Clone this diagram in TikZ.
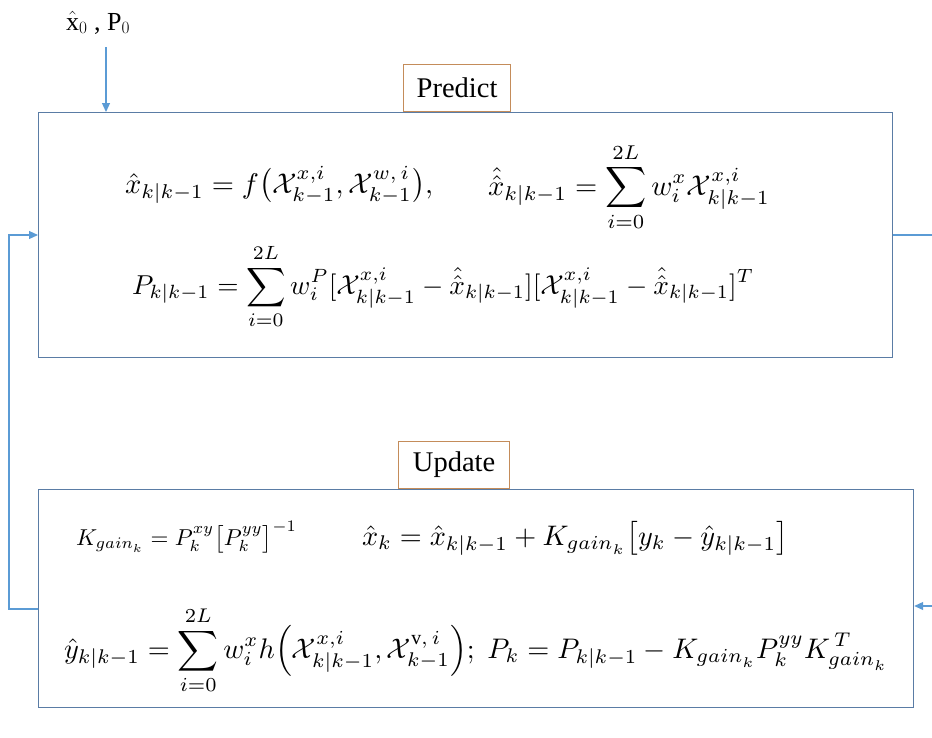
\documentclass[tikz,border=0pt]{standalone}
\usepackage{amsmath}
\usepackage{graphicx}
\usepackage{fontspec}
\setmainfont{Liberation Serif}
\usetikzlibrary{arrows.meta}
\definecolor{boxc}{RGB}{90,124,165}
\definecolor{connc}{RGB}{91,155,213}
\definecolor{lblc}{RGB}{196,140,90}
\tikzset{
 panel/.style={draw=boxc, line width=1.2pt, inner sep=0pt, anchor=north west},
 lbl/.style={draw=lblc, line width=1.2pt, fill=white, inner sep=0pt, anchor=south west, font=\fontsize{28.5}{30}\selectfont},
 conn/.style={draw=connc, line width=1.2pt},
 arr/.style={conn, -{Triangle[length=9pt,width=8pt]}},
 eq/.style={anchor=base west, inner sep=0pt, outer sep=0pt},
}
\newcommand{\eqw}[2]{\resizebox{#1pt}{!}{$\displaystyle #2$}}
\begin{document}
\begin{tikzpicture}[x=1pt,y=-1pt]
\useasboundingbox (0,0) rectangle (932,737);
% panels
\node[panel, minimum width=854pt, minimum height=245pt] (pred) at (38,112) {};
\node[panel, minimum width=875pt, minimum height=218pt] (upd) at (38,489) {};
\node[lbl, minimum width=107pt, minimum height=47pt] (plbl) at (403,112) {Predict};
\node[lbl, minimum width=111pt, minimum height=47pt] (ulbl) at (398,489) {Update};
% initial values
\node[anchor=base west, inner sep=0pt, font=\fontsize{26}{28}\selectfont] (x0) at (66,30) {$\hat{\mathrm{x}}_0$\ ,\ $\mathrm{P}_0$};
\coordinate (a0) at (106,47);
\draw[arr] (a0) -- (a0 |- pred.north);
% feedback connectors
\coordinate (L1) at (9,609);
\coordinate (L2) at (9,235);
\draw[arr] (upd.west |- L1) -- (L1) -- (L2) -- (pred.west |- L2);
\coordinate (R1) at (932,235);
\draw[conn] (pred.east |- R1) -- (R1);
\coordinate (R2) at (932,606);
\draw[arr] (R2) -- (upd.east |- R2);
% equations
\node[eq] (e1) at (125,193) {\eqw{308}{\hat{x}_{k|k-1} = f\bigl(\mathcal{X}^{x,i}_{k-1},\mathcal{X}^{w,\,i}_{k-1}\bigr),}};
\node[eq] (e2) at (488,195) {\eqw{282}{\hat{\hat{x}}_{k|k-1} = \sum_{i=0}^{2L} w_i^{x}\mathcal{X}^{x,i}_{k|k-1}}};
\node[eq] (e3) at (132,294) {\eqw{622}{P_{k|k-1} = \sum_{i=0}^{2L} w_i^{P}[\mathcal{X}^{x,i}_{k|k-1} - \hat{\hat{x}}_{k|k-1}][\mathcal{X}^{x,i}_{k|k-1} - \hat{\hat{x}}_{k|k-1}]^{T}}};
\node[eq] (e4) at (76,545) {\eqw{221}{K_{{gain}_k} = P_k^{xy}\bigl[P_k^{yy}\bigr]^{-1}}};
\node[eq] (e5) at (362,545) {\eqw{426}{\hat{x}_k = \hat{x}_{k|k-1} + K_{{gain}_k}\bigl[y_k - \hat{y}_{k|k-1}\bigr]}};
\node[eq] (e6) at (64,658) {\eqw{824}{\hat{y}_{k|k-1} = \sum_{i=0}^{2L} w_i^{x} h\Bigl(\mathcal{X}^{x,i}_{k|k-1},\mathcal{X}^{\mathrm{v},\,i}_{k-1}\Bigr);\; P_k = P_{k|k-1} - K_{{gain}_k}P_k^{yy}K_{{gain}_k}^{\,T}}};
\end{tikzpicture}
\end{document}
